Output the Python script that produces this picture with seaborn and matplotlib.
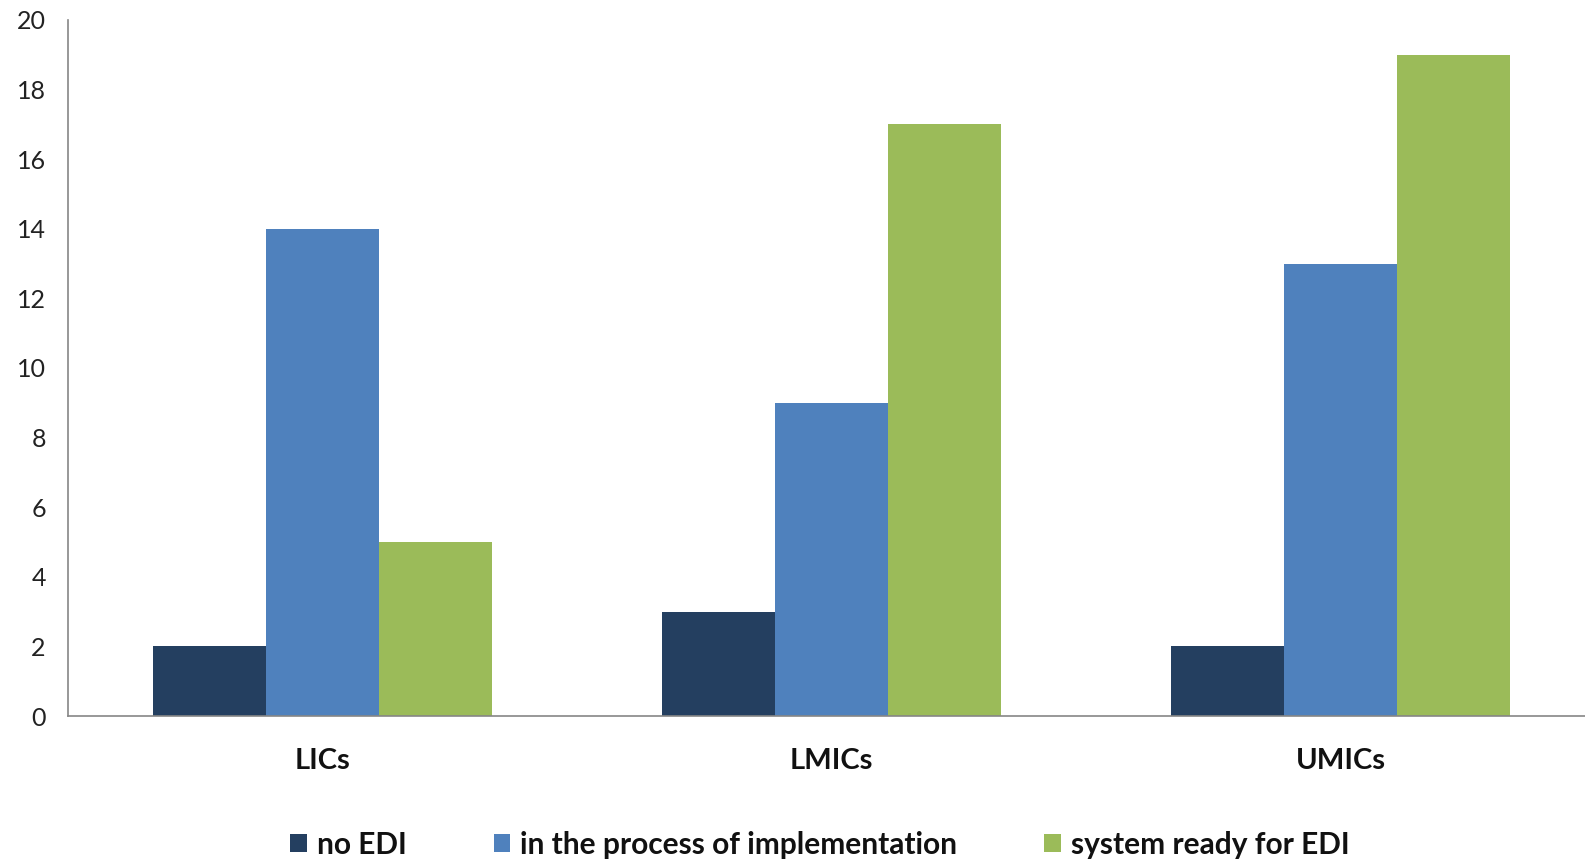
import matplotlib
matplotlib.use("Agg")
import matplotlib.pyplot as plt
import seaborn as sns
import pandas as pd
from matplotlib.patches import Patch

# Data
categories = ["LICs", "LMICs", "UMICs"]
series = ["no EDI", "in the process of implementation", "system ready for EDI"]
no_edi = [2, 3, 2]
in_process = [14, 9, 13]
ready = [5, 17, 19]
y_ticks = [0, 2, 4, 6, 8, 10, 12, 14, 16, 18, 20]

colors = ["#243F60", "#4F81BD", "#9BBB59"]

rows = []
for s, vals in zip(series, [no_edi, in_process, ready]):
    for c, v in zip(categories, vals):
        rows.append({"group": c, "status": s, "count": v})
df = pd.DataFrame(rows)

sns.set_theme(style="white")
plt.rcParams["font.family"] = ["Lato", "DejaVu Sans"]

fig = plt.figure(figsize=(15.85, 8.6), dpi=100)
ax = fig.add_axes([68 / 1585, 1 - 716 / 860, (1595 - 68) / 1585, (716 - 20) / 860])

sns.barplot(data=df, x="group", y="count", hue="status", order=categories,
            hue_order=series, palette=colors, saturation=1, width=0.667,
            ax=ax, legend=False, linewidth=0)

ax.set_xlim(-0.5, 2.5)
ax.set_ylim(0, 20)
ax.set_yticks(y_ticks)
ax.set_yticklabels([str(t) for t in y_ticks], fontsize=18, color="#222222")
ax.set_xticks(range(len(categories)))
ax.set_xticklabels(categories, fontsize=21, fontweight="bold", color="#111111")
ax.set_xticks([-0.5, 0.5, 1.5, 2.5], minor=True)
ax.tick_params(axis="x", which="major", length=0, pad=23)
ax.tick_params(axis="x", which="minor", length=9, width=1, color="#868686", direction="out")
ax.tick_params(axis="y", which="major", length=7, width=1, color="#868686", direction="in", pad=16)
ax.set_xlabel("")
ax.set_ylabel("")

for side in ["top", "right"]:
    ax.spines[side].set_visible(False)
for side in ["left", "bottom"]:
    ax.spines[side].set_color("#868686")
    ax.spines[side].set_linewidth(1.2)

handles = [Patch(facecolor=c, edgecolor="none") for c in colors]
leg = fig.legend(handles, series, loc="center", bbox_to_anchor=(820 / 1585, 1 - 845 / 860),
                 ncol=3, frameon=False, handlelength=0.55, handleheight=0.55,
                 handletextpad=0.35, columnspacing=2.9, borderpad=0,
                 prop={"size": 21.5, "weight": "bold"})
for t in leg.get_texts():
    t.set_color("#111111")

fig.savefig("out.png", dpi=100, facecolor="white")
